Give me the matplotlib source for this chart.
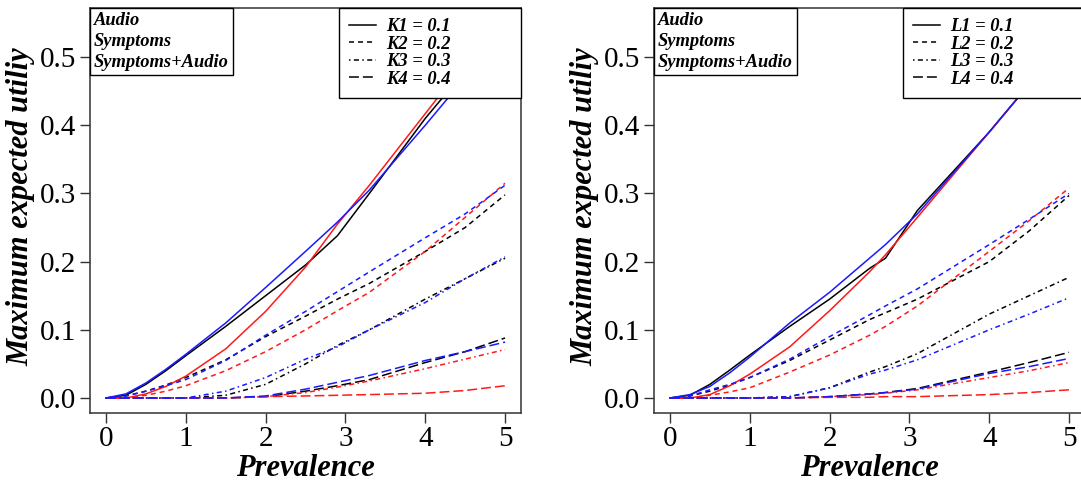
import numpy as np
import matplotlib.pyplot as plt
from matplotlib.lines import Line2D

plt.rcParams['font.family'] = ['Liberation Serif', 'DejaVu Serif']

# prevalence grids (left panel: K, right panel: L)
x_k = [0, 0.25, 0.5, 0.75, 1, 1.5, 2, 2.5, 2.9, 3.3, 4, 4.5, 5]
x_l = [0, 0.25, 0.5, 0.75, 1, 1.5, 2, 2.5, 2.7, 3.1, 4, 4.5, 5]

# left panel, K1..K4
audio_k = [
    [0, 0.004, 0.020, 0.040, 0.062, 0.105, 0.150, 0.195, 0.238, 0.300, 0.410, 0.480, 0.550],
    [0, 0.003, 0.010, 0.019, 0.030, 0.056, 0.090, 0.120, 0.145, 0.168, 0.215, 0.250, 0.298],
    [0, 0, 0, 0, 0, 0.004, 0.020, 0.050, 0.077, 0.100, 0.145, 0.175, 0.205],
    [0, 0, 0, 0, 0, 0, 0.002, 0.010, 0.018, 0.027, 0.052, 0.068, 0.088],
]
symptoms_k = [
    [0, 0, 0.006, 0.017, 0.032, 0.072, 0.127, 0.192, 0.255, 0.312, 0.417, 0.492, 0.565],
    [0, 0, 0.004, 0.010, 0.018, 0.040, 0.068, 0.100, 0.128, 0.155, 0.215, 0.265, 0.315],
    [0, 0, 0, 0, 0, 0, 0.002, 0.008, 0.016, 0.025, 0.043, 0.057, 0.071],
    [0, 0, 0, 0, 0, 0, 0.002, 0.003, 0.004, 0.005, 0.007, 0.011, 0.018],
]
both_k = [
    [0, 0.006, 0.022, 0.042, 0.064, 0.110, 0.162, 0.215, 0.258, 0.305, 0.400, 0.470, 0.540],
    [0, 0.003, 0.010, 0.018, 0.027, 0.055, 0.092, 0.127, 0.156, 0.185, 0.235, 0.270, 0.312],
    [0, 0, 0, 0, 0, 0.010, 0.030, 0.057, 0.075, 0.100, 0.140, 0.175, 0.207],
    [0, 0, 0, 0, 0, 0, 0.003, 0.013, 0.023, 0.033, 0.055, 0.068, 0.082],
]

# right panel, L1..L4
audio_l = [
    [0, 0.004, 0.020, 0.041, 0.063, 0.105, 0.145, 0.190, 0.205, 0.275, 0.390, 0.460, 0.530],
    [0, 0.003, 0.010, 0.019, 0.030, 0.055, 0.085, 0.115, 0.125, 0.145, 0.200, 0.245, 0.297],
    [0, 0, 0, 0, 0, 0.002, 0.015, 0.038, 0.046, 0.065, 0.123, 0.150, 0.177],
    [0, 0, 0, 0, 0, 0, 0.002, 0.006, 0.008, 0.014, 0.038, 0.052, 0.067],
]
symptoms_l = [
    [0, 0, 0.005, 0.018, 0.035, 0.075, 0.128, 0.185, 0.210, 0.265, 0.390, 0.460, 0.530],
    [0, 0, 0.004, 0.009, 0.015, 0.038, 0.063, 0.092, 0.105, 0.135, 0.215, 0.260, 0.308],
    [0, 0, 0, 0, 0, 0, 0.002, 0.005, 0.007, 0.012, 0.030, 0.040, 0.052],
    [0, 0, 0, 0, 0, 0, 0.001, 0.001, 0.002, 0.002, 0.005, 0.008, 0.012],
]
both_l = [
    [0, 0.005, 0.017, 0.037, 0.060, 0.110, 0.155, 0.205, 0.225, 0.270, 0.390, 0.460, 0.530],
    [0, 0.003, 0.012, 0.020, 0.030, 0.057, 0.090, 0.122, 0.135, 0.160, 0.225, 0.262, 0.300],
    [0, 0, 0, 0, 0, 0.002, 0.015, 0.035, 0.041, 0.056, 0.100, 0.123, 0.147],
    [0, 0, 0, 0, 0, 0, 0.002, 0.006, 0.008, 0.013, 0.036, 0.046, 0.058],
]

k_labels = ["K1 = 0.1", "K2 = 0.2", "K3 = 0.3", "K4 = 0.4"]
l_labels = ["L1 = 0.1", "L2 = 0.2", "L3 = 0.3", "L4 = 0.4"]
groups = ["Audio", "Symptoms", "Symptoms+Audio"]
colors = ["black", "#ff1a1a", "#1a1aff"]

styles = ["-", (0, (3.3, 2.6)), (0, (1.0, 2.2, 3.3, 2.2)), (0, (6.5, 2.6))]
lw = 1.1
bi = dict(family=['Liberation Serif', 'DejaVu Serif'], weight='bold', style='italic')


def panel(ax, x, series, labels):
    for col, curves in zip(colors, series):
        for ls, y in zip(styles, curves):
            ax.plot(x, y, color=col, ls=ls, lw=lw)
    ax.set_xlim(-0.2, 5.2)
    ax.set_ylim(-0.022, 0.572)
    ax.set_xticks(range(6))
    ax.set_yticks([0, 0.1, 0.2, 0.3, 0.4, 0.5])
    ax.set_yticklabels(["0.0", "0.1", "0.2", "0.3", "0.4", "0.5"])
    ax.tick_params(labelsize=21, length=7, width=1.0, color='#333333')
    ax.tick_params(axis='x', pad=2)
    ax.tick_params(axis='y', pad=3)
    for s in ax.spines.values():
        s.set_linewidth(1.1)
        s.set_color('#333333')
    ax.set_xlabel("Prevalence", fontsize=22, **bi)
    ax.set_ylabel("Maximum expected utiliy", fontsize=22, **bi)
    ax.xaxis.set_label_coords(0.5, -0.1)
    ax.yaxis.set_label_coords(-0.127, 0.51)

    h1 = [Line2D([], [], lw=0) for _ in groups]
    leg1 = ax.legend(h1, groups, loc='upper left', bbox_to_anchor=(0, 1),
                     borderaxespad=0, handlelength=0, handletextpad=0,
                     borderpad=0.22, labelspacing=0.22, fancybox=False,
                     edgecolor='black', framealpha=1,
                     prop=dict(size=13.3, weight='bold', style='italic'))
    leg1.get_frame().set_linewidth(1.0)
    ax.add_artist(leg1)

    h2 = [Line2D([], [], color='black', ls=ls, lw=lw) for ls in styles]
    leg2 = ax.legend(h2, labels, loc='upper left', bbox_to_anchor=(0.578, 1.0, 0.422, 0),
                     mode='expand', borderaxespad=0, handlelength=1.45,
                     handletextpad=0.55, borderpad=0.55, labelspacing=0.03,
                     fancybox=False, edgecolor='black', framealpha=1,
                     prop=dict(size=13.3, weight='bold', style='italic'))
    leg2.get_frame().set_linewidth(1.0)


fig = plt.figure(figsize=(10.81, 4.86), dpi=100)
ax1 = fig.add_axes([90 / 1081, 73 / 486, 431 / 1081, 405 / 486])
ax2 = fig.add_axes([654 / 1081, 73 / 486, 431 / 1081, 405 / 486])

panel(ax1, x_k, [audio_k, symptoms_k, both_k], k_labels)
panel(ax2, x_l, [audio_l, symptoms_l, both_l], l_labels)

fig.savefig("out.png", dpi=100)
